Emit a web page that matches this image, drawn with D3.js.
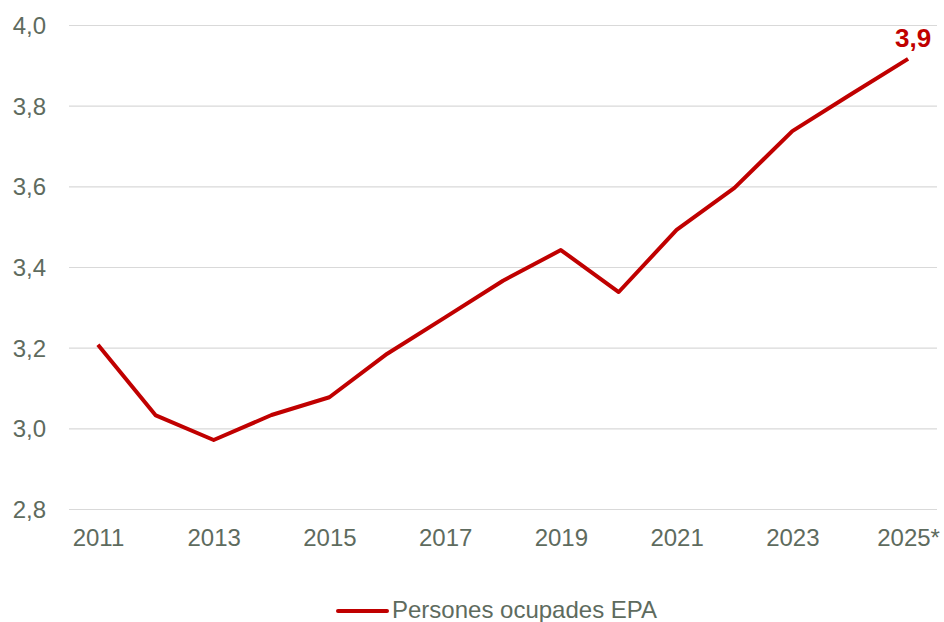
<!DOCTYPE html>
<html>
<head>
<meta charset="utf-8">
<script src="https://cdn.jsdelivr.net/npm/d3@7"></script>
<style>
    body { margin: 0; background: #fff; }
    svg { display: block; font-family: "Liberation Sans", Arial, sans-serif; }
</style>
</head>
<body>
<div class="svg-target"></div>
<script>
const years = ['2011', '2012', '2013', '2014', '2015', '2016', '2017', '2018',
    '2019', '2020', '2021', '2022', '2023', '2024', '2025*'];
const ocupades = [3.207, 3.032, 2.971, 3.033, 3.077, 3.185, 3.275, 3.366,
    3.442, 3.338, 3.492, 3.596, 3.737, 3.827, 3.916];
const yTicks = [2.8, 3.0, 3.2, 3.4, 3.6, 3.8, 4.0];
const seriesName = 'Persones ocupades EPA';
const endLabel = '3,9';

const w = 944;
const h = 622;
const plot = { left: 69, right: 937, top: 25, bottom: 509 };
const red = '#c00000';
const grey = '#5e6b5e';

const svg = d3.select('.svg-target')
    .append('svg')
    .attr('width', w)
    .attr('height', h);

// scales
const xScale = d3.scalePoint()
    .domain(years)
    .range([plot.left, plot.right])
    .padding(0.5);

const yScale = d3.scaleLinear()
    .domain([2.8, 4.0])
    .range([plot.bottom, plot.top]);

const comma = d => d3.format('.1f')(d).replace('.', ',');

// gridlines + y labels
const yAxis = d3.axisLeft(yScale)
    .tickValues(yTicks)
    .tickSize(0)
    .tickPadding(23)
    .tickFormat(comma);

svg.append('g')
    .attr('transform', `translate(${plot.left}, 0)`)
    .call(yAxis)
    .call(g => g.select('.domain').remove())
    .call(g => g.selectAll('.tick line')
        .attr('x2', plot.right - plot.left)
        .attr('stroke', '#d9d9d9')
        .attr('stroke-width', 1.2))
    .call(g => g.selectAll('.tick text')
        .attr('fill', grey)
        .attr('font-size', 24)
        .attr('dy', '0.35em'));

// x labels, every second year
const xAxis = d3.axisBottom(xScale)
    .tickValues(years.filter((d, i) => i % 2 === 0))
    .tickSize(0)
    .tickPadding(20);

svg.append('g')
    .attr('transform', `translate(0, ${plot.bottom})`)
    .call(xAxis)
    .call(g => g.select('.domain').remove())
    .call(g => g.selectAll('.tick text')
        .attr('fill', grey)
        .attr('font-size', 24));

// line
const line = d3.line()
    .x((d, i) => xScale(years[i]))
    .y(d => yScale(d));

svg.append('path')
    .datum(ocupades)
    .attr('d', line)
    .attr('fill', 'none')
    .attr('stroke', red)
    .attr('stroke-width', 4)
    .attr('stroke-linejoin', 'round');

// end label
const last = ocupades.length - 1;
svg.append('text')
    .attr('x', xScale(years[last]) + 5)
    .attr('y', yScale(ocupades[last]) - 12)
    .attr('text-anchor', 'middle')
    .attr('fill', red)
    .attr('font-size', 26)
    .attr('font-weight', 'bold')
    .text(endLabel);

// legend
const legend = svg.append('g')
    .attr('transform', 'translate(338, 611)');

legend.append('line')
    .attr('x1', 0)
    .attr('x2', 49)
    .attr('stroke', red)
    .attr('stroke-width', 4)
    .attr('stroke-linecap', 'round');

legend.append('text')
    .attr('x', 54)
    .attr('y', 7)
    .attr('fill', grey)
    .attr('font-size', 24)
    .text(seriesName);
</script>
</body>
</html>
